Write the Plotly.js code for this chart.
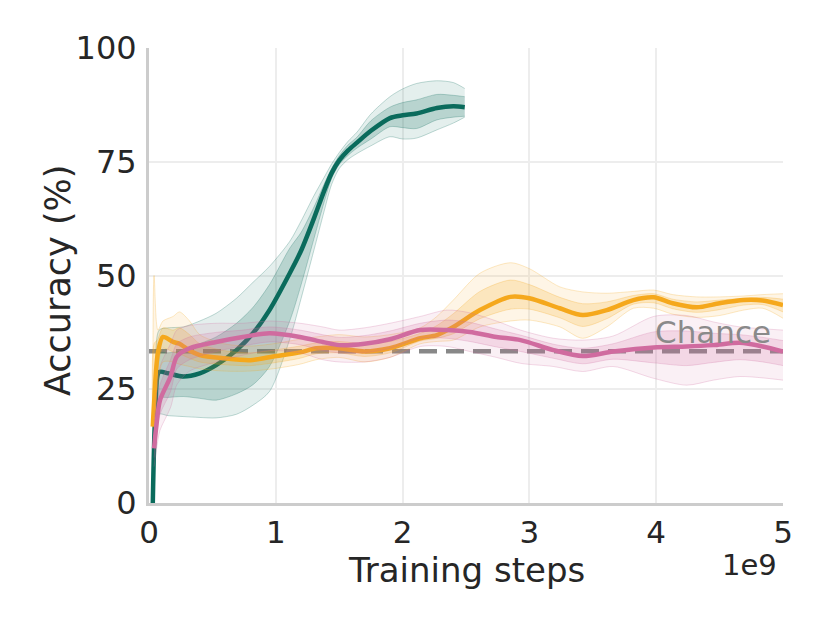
<!DOCTYPE html>
<html>
<head>
<meta charset="utf-8">
<script src="https://cdn.plot.ly/plotly-3.0.1.min.js"></script>
<style>
  html, body { margin: 0; padding: 0; background: #fff; }
  #chart { width: 830px; height: 623px; }
</style>
</head>
<body>
<div id="chart"></div>
<script>
// training steps are in units of 1e9
var greenX      = [0.03, 0.05, 0.08, 0.15, 0.27, 0.4, 0.53, 0.69, 0.82, 0.95, 1.11, 1.2, 1.3, 1.38, 1.44, 1.5, 1.57, 1.64, 1.75, 1.9, 2.0, 2.11, 2.27, 2.4, 2.49];
var greenMean   = [0, 20, 28.8, 28.5, 27.8, 28.5, 30.3, 33.6, 37.3, 42.4, 50.5, 55.5, 62.5, 68.5, 72.5, 75.3, 77.5, 79.2, 81.8, 84.6, 85.2, 85.6, 86.8, 87.2, 87];
var greenOutHi  = [0, 30, 38, 38.5, 38.7, 40, 41.7, 45, 48.5, 52, 57.5, 62, 67.5, 71.5, 74.5, 77, 79.5, 81.5, 85.5, 89.3, 91, 92.2, 92.8, 92.4, 91.1];
var greenInHi   = [0, 26, 33, 33, 33.5, 35, 36.5, 39.5, 43, 48, 56, 59.5, 65, 70, 73.5, 76.3, 78.7, 80.4, 84, 87, 88, 88.6, 89.8, 89.6, 89.3];
var greenInLo   = [0, 15, 23, 23.2, 23.4, 23, 22.6, 24, 26, 30, 40, 48, 58, 66, 71.3, 74.4, 76.4, 78, 80, 82.7, 82.5, 82.3, 84.2, 84.8, 85];
var greenOutLo  = [0, 12, 19.5, 19.2, 19, 18.8, 18.7, 19.5, 21.5, 24.5, 36, 45, 55.5, 64, 70, 73.5, 75.5, 76.8, 78.5, 80.5, 80, 80.2, 82, 83.5, 84.8];

var yellowX     = [0.03, 0.04, 0.07, 0.11, 0.19, 0.24, 0.32, 0.4, 0.59, 0.8, 0.98, 1.19, 1.32, 1.5, 1.7, 1.9, 2.14, 2.27, 2.4, 2.61, 2.85, 3.0, 3.24, 3.42, 3.61, 3.82, 3.98, 4.13, 4.32, 4.5, 4.69, 4.84, 5.0];
var yellowMean  = [16.8, 22, 33, 36.5, 35.4, 35, 33.5, 32.5, 31.8, 31.4, 32.2, 33.1, 34, 34, 33.3, 34, 36.2, 36.9, 38.7, 42.4, 45.3, 45, 42.8, 41.3, 42.4, 44.6, 45.2, 43.9, 43, 43.9, 44.6, 44.5, 43.5];
var yellowOutHi = [17, 50, 38, 40, 41, 42, 40, 37, 35, 34.5, 35, 36, 36.5, 37, 36.5, 37, 38.5, 41, 44.6, 50.5, 52.8, 51.5, 47.5, 46.4, 46.1, 46.5, 46.8, 45.8, 45.3, 45.3, 45.5, 45.8, 46];
var yellowInHi  = [17, 35, 36, 38.5, 38, 38.5, 37, 35, 33.5, 33, 33.6, 34.5, 35.2, 35.5, 35, 35.5, 37.3, 39, 41.6, 46.5, 49, 48, 45.2, 43.8, 44.2, 45.6, 46, 44.8, 44.2, 44.6, 45, 45.2, 44.8];
var yellowInLo  = [16.6, 20, 30, 34, 33.2, 32.8, 31.8, 31, 30.4, 30.2, 30.8, 31.8, 32.8, 33, 32.2, 33, 35.6, 36.2, 37.2, 40.5, 42.6, 42.6, 40.7, 38.8, 40.5, 43.7, 44, 42.7, 41.9, 42.5, 43.5, 43.6, 42];
var yellowOutLo = [16.5, 18, 26, 31, 31, 30.5, 30, 29.5, 29, 29, 29.5, 30.5, 31.5, 32, 31, 32, 35, 35.5, 35.8, 38.7, 40, 40.2, 38.7, 36.2, 38.7, 42.8, 42.8, 41.5, 40.8, 41.2, 42.4, 42.8, 40.6];

var pinkX       = [0.04, 0.06, 0.087, 0.17, 0.22, 0.32, 0.53, 0.74, 0.95, 1.19, 1.37, 1.5, 1.7, 1.9, 2.14, 2.35, 2.53, 2.74, 2.93, 3.19, 3.42, 3.66, 3.98, 4.24, 4.45, 4.66, 4.84, 5.0];
var pinkMean    = [12, 17.5, 22.6, 27.8, 32.2, 34, 35.4, 36.5, 37.3, 36.5, 35.4, 34.7, 35, 36, 38, 38, 37.6, 36.5, 35.8, 33.6, 32.3, 33.3, 34.2, 34.4, 34.7, 35.2, 34.4, 33.3];
var pinkOutHi   = [18, 24, 30, 35, 38, 39, 39.5, 39.5, 40, 39.5, 38.7, 38, 38.5, 39.5, 41, 42.4, 41.8, 40, 38, 36.2, 35.8, 36.7, 41, 41.2, 39.8, 38.7, 38.3, 38];
var pinkInHi    = [15, 21, 26, 31.5, 35, 36.5, 37.5, 38, 38.7, 38, 37, 36.4, 36.8, 37.8, 39.5, 40.2, 39.7, 38.2, 36.9, 34.9, 34, 35, 37.6, 37.8, 37.3, 37, 36.4, 35.7];
var pinkInLo    = [10, 14.5, 19.5, 24.5, 29.5, 31.5, 33.3, 34.5, 35.4, 34.8, 33.5, 33, 33, 34, 36.2, 36.2, 35.5, 34.3, 33.3, 31.8, 30.6, 31.6, 30.8, 30.2, 30.9, 31.5, 31, 30.2];
var pinkOutLo   = [8, 12, 16, 21, 26, 29, 31, 32.5, 33.5, 33, 31.5, 31, 31, 32, 34.4, 34.4, 33.3, 32, 30.7, 30, 28.9, 30, 27.4, 25.9, 27, 27.8, 27.5, 27];

var chanceX = [0, 5];
var chanceY = [33.33, 33.33];

var xTicks = [0, 1, 2, 3, 4, 5];
var yTicks = [0, 25, 50, 75, 100];

var FONT = 'DejaVu Sans, sans-serif';
var INK = '#262626';

function band(x, lo, hi, rgb, alpha) {
  var edge = 'rgba(' + rgb + ',0.25)';
  return [
    { x: x, y: lo, mode: 'lines', line: {color: edge, width: 1, shape: 'spline', smoothing: 0.8}, hoverinfo: 'skip', showlegend: false },
    { x: x, y: hi, mode: 'lines', fill: 'tonexty', fillcolor: 'rgba(' + rgb + ',' + alpha + ')',
      line: {color: edge, width: 1, shape: 'spline', smoothing: 0.8}, hoverinfo: 'skip', showlegend: false }
  ];
}

function meanLine(x, y, color) {
  return { x: x, y: y, mode: 'lines', line: {color: color, width: 4.5, shape: 'spline', smoothing: 0.8}, showlegend: false };
}

var data = [];
data.push({ x: chanceX, y: chanceY, mode: 'lines', line: {color: '#888888', width: 4.5, dash: '18px,9px'}, showlegend: false });

data = data.concat(band(greenX, greenOutLo, greenOutHi, '10,107,92', 0.11));
data = data.concat(band(greenX, greenInLo, greenInHi, '10,107,92', 0.2));
data.push(meanLine(greenX, greenMean, '#0a6b5c'));

data = data.concat(band(yellowX, yellowOutLo, yellowOutHi, '245,168,28', 0.11));
data = data.concat(band(yellowX, yellowInLo, yellowInHi, '245,168,28', 0.2));
data.push(meanLine(yellowX, yellowMean, '#f5a81c'));

data = data.concat(band(pinkX, pinkOutLo, pinkOutHi, '208,107,159', 0.1));
data = data.concat(band(pinkX, pinkInLo, pinkInHi, '208,107,159', 0.18));
data.push(meanLine(pinkX, pinkMean, '#d06b9f'));

var layout = {
  width: 830,
  height: 623,
  margin: {l: 149, r: 47, t: 48, b: 120, pad: 0},
  paper_bgcolor: '#ffffff',
  plot_bgcolor: '#ffffff',
  font: {family: FONT, color: INK, size: 32},
  showlegend: false,
  xaxis: {
    range: [0, 5],
    tickvals: xTicks,
    ticktext: xTicks.map(String),
    showgrid: true,
    gridcolor: '#ededed',
    gridwidth: 2,
    zeroline: false,
    showline: true,
    linecolor: '#cccccc',
    linewidth: 3,
    ticks: '',
    ticklabelstandoff: 0,
    tickfont: {family: FONT, size: 31, color: INK}
  },
  yaxis: {
    range: [0, 100],
    tickvals: yTicks,
    ticktext: yTicks.map(String),
    showgrid: true,
    gridcolor: '#ededed',
    gridwidth: 2,
    zeroline: false,
    showline: true,
    linecolor: '#cccccc',
    linewidth: 3,
    ticks: '',
    ticklabelstandoff: 3,
    tickfont: {family: FONT, size: 32, color: INK}
  },
  annotations: [
    // axis titles as annotations so they sit where the original has them
    { x: 0.5, y: -0.147, xref: 'paper', yref: 'paper', text: 'Training steps', showarrow: false,
      font: {family: FONT, size: 34, color: INK}, xanchor: 'center', yanchor: 'middle' },
    { x: -0.1435, y: 0.488, xref: 'paper', yref: 'paper', text: 'Accuracy (%)', showarrow: false, textangle: -90,
      font: {family: FONT, size: 35, color: INK}, xanchor: 'center', yanchor: 'middle' },
    { x: 4.45, y: 37.6, xref: 'x', yref: 'y', text: 'Chance', showarrow: false,
      font: {family: FONT, size: 31, color: '#8a8a8a'}, xanchor: 'center', yanchor: 'middle' },
    { x: 1.0, y: -0.136, xref: 'paper', yref: 'paper', text: '1e9', showarrow: false,
      font: {family: FONT, size: 29, color: INK}, xanchor: 'right', yanchor: 'middle', xshift: -4 }
  ]
};

Plotly.newPlot('chart', data, layout, {displayModeBar: false, staticPlot: true});
</script>
</body>
</html>
